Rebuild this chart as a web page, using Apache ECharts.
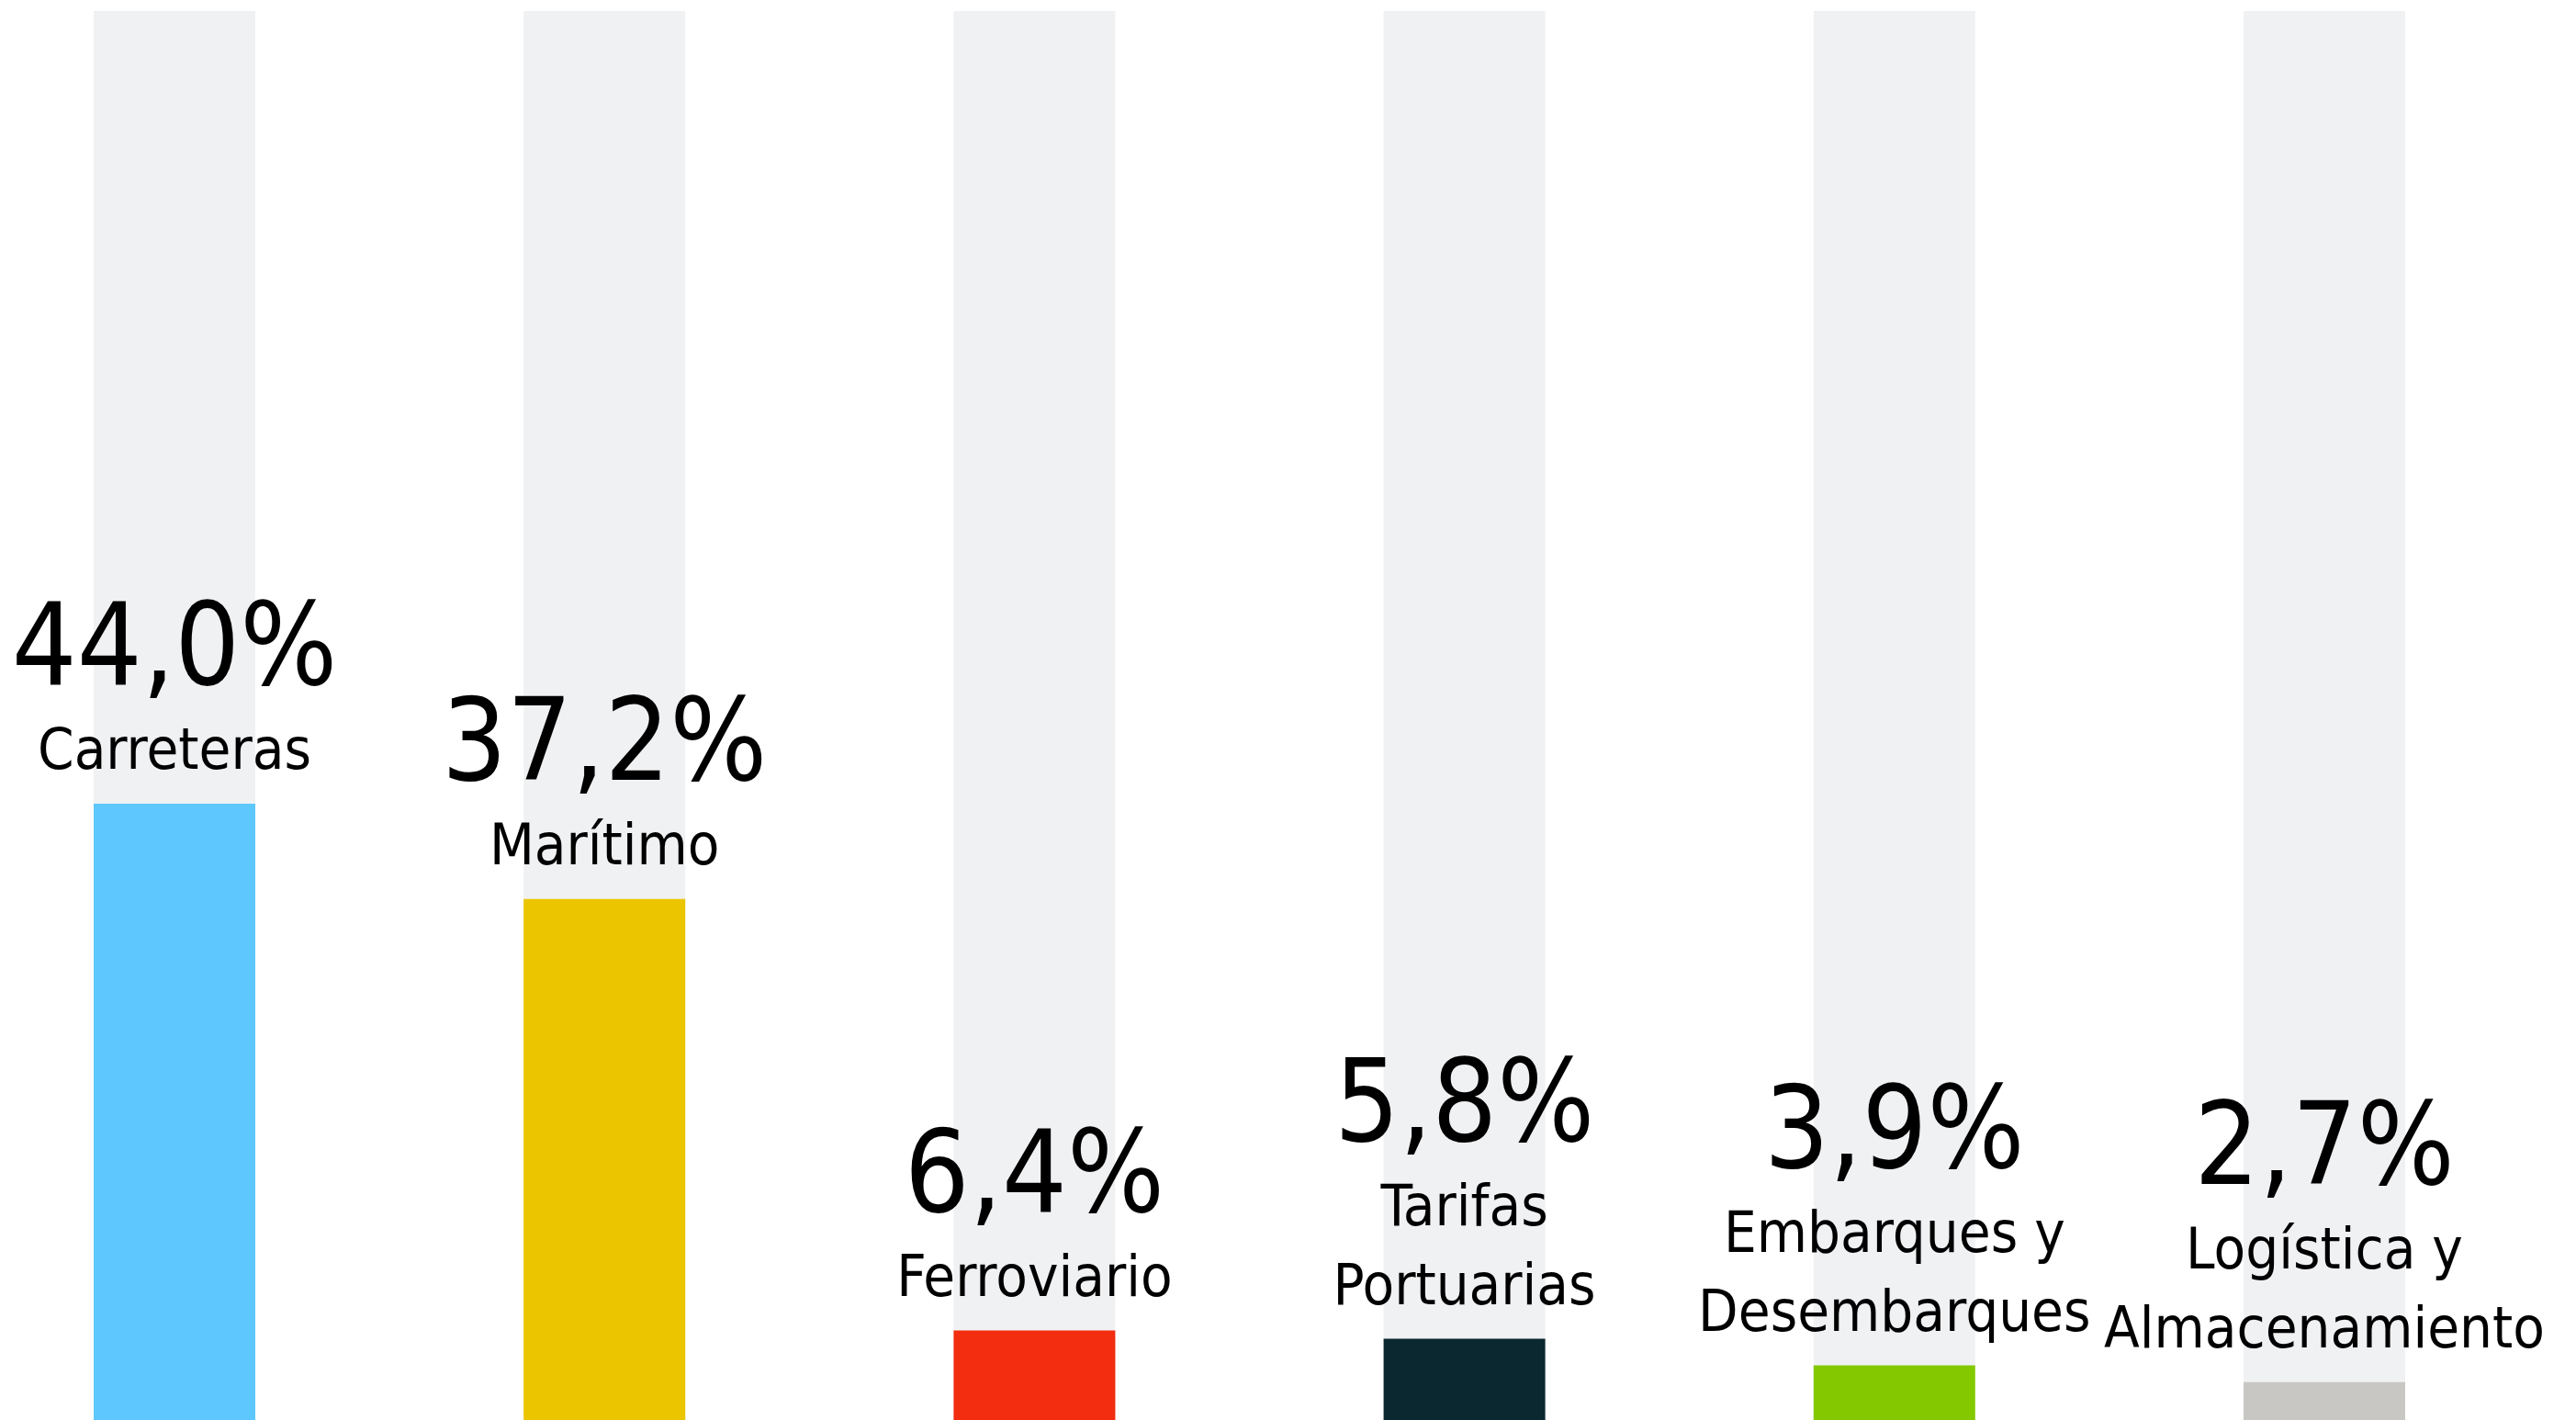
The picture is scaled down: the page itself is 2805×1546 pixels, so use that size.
<!DOCTYPE html>
<html>
<head>
<meta charset="utf-8">
<script src="https://cdn.jsdelivr.net/npm/echarts@6/dist/echarts.min.js"></script>
<style>
  html, body { margin: 0; padding: 0; background: #ffffff; }
  #chart { width: 2805px; height: 1546px; }
</style>
</head>
<body>
<div id="chart"></div>
<script>
// ---- data ----
const categories = ['Carreteras', 'Marítimo', 'Ferroviario', 'Tarifas\nPortuarias', 'Embarques y\nDesembarques', 'Logística y\nAlmacenamiento'];
const values = [44.0, 37.2, 6.4, 5.8, 3.9, 2.7];
const barColors = ['#5EC8FE', '#EBC500', '#F22D10', '#0B2830', '#84C900', '#C8C7C3'];

// ---- chart ----
const FONT = '"Liberation Sans Narrow", "DejaVu Sans Condensed", "Roboto Condensed", sans-serif';
const chart = echarts.init(document.getElementById('chart'), null, { renderer: 'canvas' });

function fmtLabel(p) {
  const v = values[p.dataIndex].toFixed(1).replace('.', ',') + '%';
  const lines = categories[p.dataIndex].split('\n').map(s => '{c|' + s + '}');
  return '{v|' + v + '}\n' + lines.join('\n');
}

chart.setOption({
  animation: false,
  backgroundColor: '#ffffff',
  grid: { left: 190, right: 274, top: 12, bottom: 0, containLabel: false },
  xAxis: {
    type: 'category',
    data: categories,
    boundaryGap: false,
    show: false
  },
  yAxis: {
    type: 'value',
    min: 0,
    max: 100.6,
    show: false
  },
  series: [{
    type: 'bar',
    barWidth: 176,
    showBackground: true,
    backgroundStyle: { color: '#F0F1F3' },
    data: values.map((v, i) => ({ value: v, itemStyle: { color: barColors[i] } })),
    label: {
      show: true,
      position: 'top',
      distance: 11,
      formatter: fmtLabel,
      align: 'center',
      rich: {
        v: { fontFamily: FONT, fontSize: 124, lineHeight: 130, color: '#000000', align: 'center' },
        c: { fontFamily: FONT, fontSize: 63, lineHeight: 86, color: '#000000', align: 'center' }
      }
    }
  }]
});
</script>
</body>
</html>
